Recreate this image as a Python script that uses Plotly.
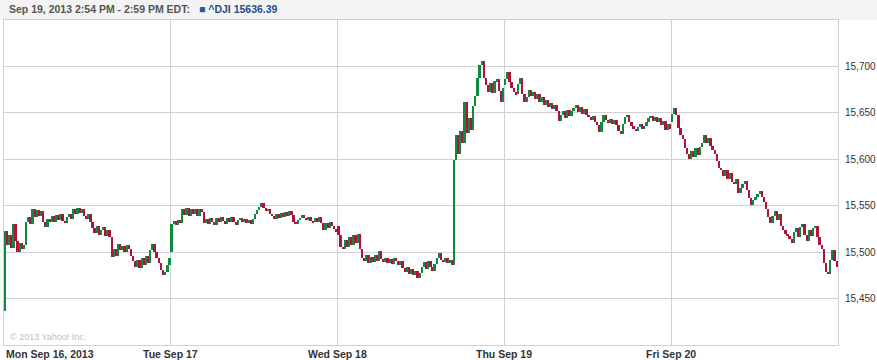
import plotly.graph_objects as go

# ---- data (5-minute candles, 78 per session) ----
days = ["Mon Sep 16, 2013", "Tue Sep 17", "Wed Sep 18", "Thu Sep 19", "Fri Sep 20"]
day_open = [15437, 15500, 15528, 15680, 15640]

mon_close = [15523, 15508, 15518, 15505, 15530, 15512, 15500, 15510, 15503, 15508,
             15532, 15538, 15530, 15546, 15538, 15545, 15539, 15544, 15532, 15527,
             15536, 15532, 15539, 15533, 15540, 15535, 15541, 15534, 15531, 15538,
             15541, 15536, 15546, 15541, 15548, 15542, 15546, 15539, 15536, 15541,
             15533, 15526, 15521, 15528, 15519, 15524, 15527, 15517, 15524, 15516,
             15495, 15503, 15496, 15509, 15502, 15507, 15500, 15508, 15503, 15496,
             15490, 15484, 15492, 15483, 15494, 15486, 15496, 15488, 15502, 15509,
             15500, 15494, 15488, 15481, 15475, 15479, 15486, 15494]
tue_close = [15530, 15534, 15529, 15535, 15531, 15546, 15540, 15548, 15539, 15547,
             15541, 15547, 15539, 15546, 15543, 15531, 15536, 15530, 15537, 15533,
             15529, 15537, 15532, 15538, 15534, 15530, 15537, 15533, 15538, 15532,
             15529, 15535, 15537, 15532, 15536, 15531, 15535, 15530, 15536, 15541,
             15545, 15549, 15553, 15548, 15544, 15547, 15541, 15539, 15536, 15541,
             15537, 15542, 15538, 15543, 15539, 15544, 15540, 15533, 15530, 15535,
             15537, 15540, 15537, 15535, 15538, 15534, 15532, 15537, 15533, 15538,
             15531, 15524, 15531, 15526, 15532, 15528, 15525, 15522]
wed_close = [15518, 15506, 15503, 15513, 15506, 15516, 15508, 15518, 15510, 15520,
             15503, 15494, 15490, 15497, 15488, 15495, 15489, 15497, 15491, 15501,
             15493, 15489, 15494, 15488, 15493, 15487, 15494, 15490, 15486, 15491,
             15483, 15479, 15484, 15477, 15482, 15475, 15480, 15472, 15478, 15484,
             15489, 15482, 15490, 15484, 15480, 15487, 15494, 15499, 15492, 15489,
             15494, 15488, 15492, 15486, 15599, 15626, 15606, 15631, 15618, 15662,
             15628, 15645, 15632, 15657, 15668, 15688, 15702, 15706, 15688, 15680,
             15672, 15682, 15671, 15684, 15686, 15674, 15662, 15677]
thu_close = [15686, 15694, 15683, 15677, 15672, 15670, 15681, 15688, 15670, 15662,
             15667, 15675, 15668, 15673, 15665, 15670, 15662, 15667, 15659, 15664,
             15656, 15661, 15654, 15659, 15652, 15641, 15648, 15652, 15645, 15653,
             15647, 15652, 15655, 15658, 15651, 15656, 15649, 15654, 15648, 15646,
             15642, 15647, 15640, 15637, 15629, 15640, 15648, 15642, 15639, 15643,
             15638, 15642, 15637, 15631, 15627, 15638, 15646, 15648, 15640, 15636,
             15633, 15631, 15635, 15638, 15633, 15636.39, 15640, 15644, 15647, 15641,
             15646, 15640, 15644, 15637, 15641, 15632, 15638, 15633]
fri_close = [15649, 15655, 15648, 15634, 15626, 15622, 15612, 15606, 15600, 15609,
             15603, 15612, 15605, 15613, 15618, 15626, 15618, 15623, 15614, 15610,
             15606, 15598, 15591, 15588, 15582, 15589, 15579, 15585, 15576, 15573,
             15579, 15564, 15569, 15573, 15577, 15567, 15558, 15551, 15556, 15559,
             15563, 15566, 15559, 15554, 15546, 15538, 15531, 15539, 15544, 15535,
             15541, 15528, 15524, 15520, 15517, 15514, 15510, 15522, 15526, 15516,
             15527, 15530, 15518, 15512, 15524, 15517, 15526, 15528, 15516, 15508,
             15503, 15488, 15479, 15476, 15492, 15502, 15491, 15484]

y_ticks = [15450, 15500, 15550, 15600, 15650, 15700]
hover_day, hover_idx = 3, 65  # highlighted candle (Thu 2:54 PM)

UP, DOWN, HILITE = "#0e8a3e", "#b0123c", "#1d5a9a"
FONT = "Liberation Sans, Arial, sans-serif"

# ---- build candles ----
closes_by_day = [mon_close, tue_close, wed_close, thu_close, fri_close]
xs, base, height, colors = [], [], [], []
n = 0
for d, closes in enumerate(closes_by_day):
    prev = day_open[d]
    for i, c in enumerate(closes):
        lo, hi = min(prev, c), max(prev, c)
        xs.append(n)
        base.append(lo)
        height.append(max(hi - lo, 0.9))
        if d == hover_day and i == hover_idx:
            colors.append(HILITE)
        else:
            colors.append(UP if c >= prev else DOWN)
        prev = c
        n += 1
per_day = len(mon_close)

fig = go.Figure(go.Bar(x=xs, y=height, base=base, width=0.85,
                       marker=dict(color=colors, line=dict(width=0)),
                       hoverinfo="skip"))

bounds = [per_day * k - 0.5 for k in range(1, len(days))]
grid_c = "#d0d0d0"
fig.update_layout(
    width=877, height=360,
    margin=dict(l=4, r=39, t=20, b=15, autoexpand=False),
    paper_bgcolor="white", plot_bgcolor="white",
    showlegend=False, bargap=0,
    xaxis=dict(range=[-0.5, n - 0.5], tickvals=bounds, showticklabels=False,
               ticks="", showgrid=True, gridcolor=grid_c, gridwidth=1,
               showline=True, mirror=True, linecolor=grid_c, linewidth=1,
               zeroline=False, fixedrange=True, automargin=False),
    yaxis=dict(range=[15400, 15750], tickvals=y_ticks, side="right",
               tickformat=",", ticks="", showgrid=True, gridcolor=grid_c,
               gridwidth=1, showline=True, mirror=True, linecolor=grid_c,
               zeroline=False, fixedrange=True, automargin=False,
               ticklabelstandoff=4,
               tickfont=dict(family=FONT, size=10, color="#333333")),
)

# header band
fig.add_shape(type="rect", xref="paper", yref="paper", x0=-0.01, x1=1.06,
              y0=1.0, y1=1.07, fillcolor="#f3f3f3", line=dict(width=0),
              layer="below")
fig.add_annotation(xref="paper", yref="paper", x=0, y=1.0, xanchor="left",
                   yanchor="bottom", xshift=3, yshift=3, showarrow=False,
                   text="<b>Sep 19, 2013 2:54 PM - 2:59 PM EDT:</b>",
                   font=dict(family=FONT, size=10.5, color="#555555"))
fig.add_annotation(xref="paper", yref="paper", x=0, y=1.0, xanchor="left",
                   yanchor="bottom", xshift=193, yshift=3, showarrow=False,
                   text="<span style='color:%s'>■</span> <b>^DJI %.2f</b>" % (HILITE, thu_close[hover_idx]),
                   font=dict(family=FONT, size=10.5, color="#1f4e86"))

# day labels
for k, lab in enumerate(days):
    if k == 0:
        fig.add_annotation(xref="paper", yref="paper", x=0, y=0, xanchor="left",
                           yanchor="top", xshift=0, yshift=-1, showarrow=False,
                           text="<b>%s</b>" % lab,
                           font=dict(family=FONT, size=10.5, color="#333333"))
    else:
        fig.add_annotation(xref="x", yref="paper", x=bounds[k - 1], y=0,
                           xanchor="center", yanchor="top", yshift=-1,
                           showarrow=False, text="<b>%s</b>" % lab,
                           font=dict(family=FONT, size=10.5, color="#333333"))

fig.add_annotation(xref="paper", yref="paper", x=0, y=0, xanchor="left",
                   yanchor="bottom", xshift=4, yshift=1, showarrow=False,
                   text="© 2013 Yahoo! Inc.",
                   font=dict(family=FONT, size=9, color="#b8c0cc"))

fig.write_html("out.html", config={"displayModeBar": False},
               post_script="document.body.style.margin='0';")
